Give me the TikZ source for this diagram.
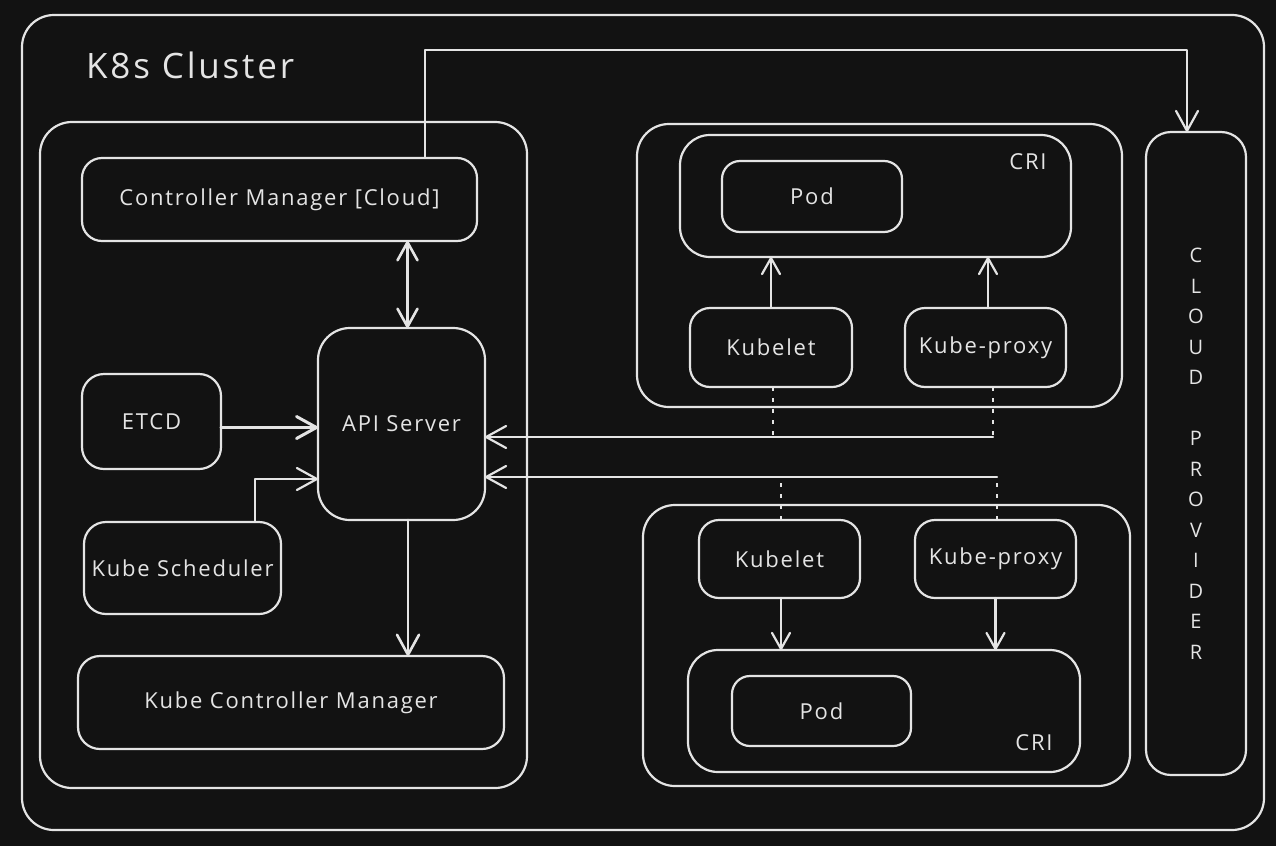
\documentclass[tikz,border=0pt]{standalone}
\usepackage{fontspec}
\setmainfont{Open Sans}[LetterSpace=8]
\usetikzlibrary{arrows.meta,calc}
\definecolor{bg}{HTML}{121212}
\definecolor{fg}{HTML}{E4E4E4}
\newcommand{\lblfont}{\fontsize{22}{26}\selectfont}
\begin{document}
\begin{tikzpicture}[x=1pt,y=-1pt,
  box/.style={draw=fg, line width=2.2pt, rounded corners=#1, inner sep=0pt, outer sep=0pt,
              text=fg, font=\lblfont, line join=round},
  box/.default=20pt,
  lbl/.style={text=fg, font=\lblfont, inner sep=0pt},
  arr/.style={draw=fg, line width=2.2pt, line cap=round, line join=round,
              -{Straight Barb[length=20pt,width=22pt,round]}},
  arrs/.style={draw=fg, line width=2.2pt, line cap=round,
              -{Straight Barb[length=16pt,width=18pt,round]}},
  darr/.style={draw=fg, line width=2.6pt, line cap=round,
              {Straight Barb[length=18pt,width=20pt,round]}-{Straight Barb[length=18pt,width=20pt,round]}},
  dots/.style={draw=fg, line width=2.4pt, dash pattern=on 4pt off 7pt},
]
\fill[bg] (0,0) rectangle (1276,846);
\useasboundingbox (0,0) rectangle (1276,846);

% cluster
\node[box=32pt, minimum width=1242pt, minimum height=815pt] (cluster) at (643,422.5) {};
\node[lbl, anchor=west, font=\fontsize{35}{40}\selectfont] (title) at (86,65) {K8s Cluster};

% control plane
\node[box=32pt, minimum width=487pt, minimum height=666pt] (cp) at (283.5,455) {};
\node[box=20pt, minimum width=395pt, minimum height=83pt] (cm) at (279.5,199.5) {Controller Manager [Cloud]};
\node[box=22pt, minimum width=139pt, minimum height=95pt] (etcd) at (151.5,421.5) {ETCD};
\node[box=22pt, minimum width=197pt, minimum height=92pt] (sched) at (182.5,568) {Kube Scheduler};
\node[box=32pt, minimum width=167pt, minimum height=192pt] (api) at (401.5,424) {API Server};
\node[box=22pt, minimum width=426pt, minimum height=93pt] (kcm) at (291,702.5) {Kube Controller Manager};

% cloud provider
\node[box=25pt, minimum width=100pt, minimum height=643pt] (cloud) at (1196,453.5) {};
\node[lbl, align=center, font=\fontsize{20}{30.5}\selectfont] (cloudtxt) at (1196,453.5)
  {C\\L\\O\\U\\D\\[30.5pt]P\\R\\O\\V\\I\\D\\E\\R};

% worker 1
\node[box=32pt, minimum width=485pt, minimum height=283pt] (w1) at (879.5,265.5) {};
\node[box=30pt, minimum width=391pt, minimum height=122pt] (cri1) at (875.5,196) {};
\node[lbl] (cri1txt) at (1028,162) {CRI};
\node[box=18pt, minimum width=180pt, minimum height=71pt] (pod1) at (812,196.5) {Pod};
\node[box=20pt, minimum width=162pt, minimum height=79pt] (kl1) at (771,347.5) {Kubelet};
\node[box=20pt, minimum width=161pt, minimum height=79pt] (kp1) at (985.5,347.5) {Kube-proxy};

% worker 2
\node[box=32pt, minimum width=487pt, minimum height=281pt] (w2) at (886.5,645.5) {};
\node[box=20pt, minimum width=161pt, minimum height=78pt] (kl2) at (779.5,559) {Kubelet};
\node[box=20pt, minimum width=161pt, minimum height=78pt] (kp2) at (995.5,559) {Kube-proxy};
\node[box=30pt, minimum width=392pt, minimum height=122pt] (cri2) at (884,711) {};
\node[box=18pt, minimum width=179pt, minimum height=70pt] (pod2) at (821.5,711) {Pod};
\node[lbl] (cri2txt) at (1034,743) {CRI};

% connectors, control plane
\draw[darr] ([xshift=6pt]api.north |- cm.south) -- ([xshift=6pt]api.north);
\draw[arr, line width=3pt] ([yshift=-6pt]etcd.east) -- ([yshift=-6pt]etcd.east -| api.west);
\draw[arr] ([xshift=72.5pt]sched.north) |- ([yshift=-55pt]api.west);
\draw[arr, line width=2.6pt] ([xshift=6.5pt]api.south) -- ([xshift=6.5pt]api.south |- kcm.north);

% to cloud provider
\coordinate (turn) at (1187,50);
\draw[arr] ([xshift=145.5pt]cm.north) |- (turn) -- ([xshift=-9pt]cloud.north);

% worker 1 connectors
\draw[arrs] (kl1.north) -- (kl1.north |- cri1.south);
\draw[arrs] ([xshift=2.5pt]kp1.north) -- ([xshift=2.5pt]kp1.north |- cri1.south);
\coordinate (j1) at (993,437);
\draw[dots] ([xshift=2pt]kl1.south) -- ([xshift=2pt]kl1.south |- j1);
\draw[dots] ([xshift=7.5pt]kp1.south) -- (j1);
\draw[arr] (j1) -- (j1 -| api.east);

% worker 2 connectors
\draw[arrs] ([xshift=1.5pt]kl2.south) -- ([xshift=1.5pt]kl2.south |- cri2.north);
\draw[arrs] (kp2.south) -- (kp2.south |- cri2.north);
\coordinate (j2) at (997,477);
\draw[dots] ([xshift=1.5pt]kl2.north) -- ([xshift=1.5pt]kl2.north |- j2);
\draw[dots] ([xshift=1.5pt]kp2.north) -- (j2);
\draw[arr] (j2) -- (j2 -| api.east);
\end{tikzpicture}
\end{document}
